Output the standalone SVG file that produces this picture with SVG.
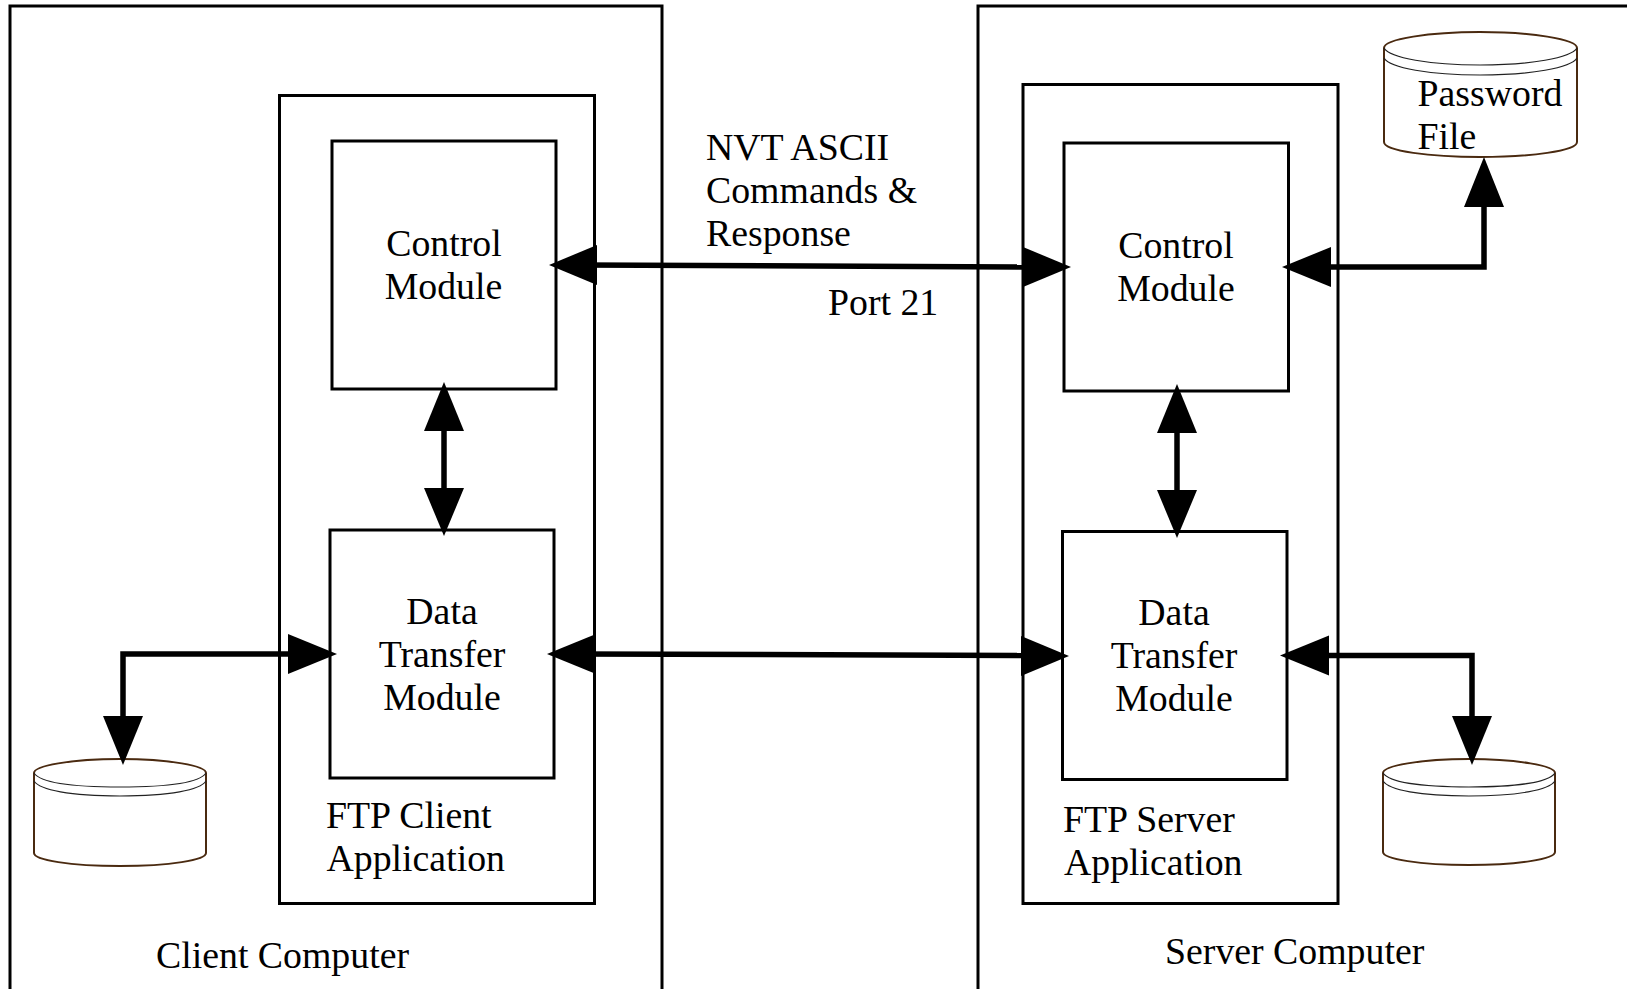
<svg xmlns="http://www.w3.org/2000/svg" width="1627" height="989" viewBox="0 0 1627 989">
<style>
rect{fill:none;stroke:#000;stroke-width:3}
.c{fill:#fff;stroke:#4a2a10;stroke-width:2}
.t{fill:none;stroke:#222;stroke-width:1.2}
text{font-family:"Liberation Serif","Times New Roman",serif;font-size:37.8px;fill:#000}
.m{text-anchor:middle}
.l{fill:none;stroke:#000;stroke-width:5.5}
.a{fill:#000;stroke:none}
</style>
<g id="client-computer"><rect x="10" y="6" width="652" height="1000"/><text x="156" y="968">Client Computer</text></g>
<g id="server-computer"><rect x="978" y="6" width="700" height="1000"/><text x="1165" y="964">Server Computer</text></g>
<g id="client-app"><rect x="279.500" y="95.500" width="315" height="808"/><text x="326" y="827.500">FTP Client</text><text x="326.500" y="870.500">Application</text></g>
<g id="server-app"><rect x="1023" y="84.500" width="315" height="819"/><text x="1063" y="831.500">FTP Server</text><text x="1064" y="874.500">Application</text></g>
<g id="client-control"><rect x="332" y="141" width="224" height="248"/><text class="m" x="444" y="256">Control</text><text class="m" x="443.500" y="299">Module</text></g>
<g id="client-data"><rect x="330" y="530" width="224" height="248"/><text class="m" x="442" y="624">Data</text><text class="m" x="442" y="667">Transfer</text><text class="m" x="442" y="710">Module</text></g>
<g id="server-control"><rect x="1064" y="143" width="224.500" height="248"/><text class="m" x="1176" y="258">Control</text><text class="m" x="1176" y="301">Module</text></g>
<g id="server-data"><rect x="1062.500" y="531.500" width="224.500" height="248"/><text class="m" x="1174" y="625">Data</text><text class="m" x="1174" y="668">Transfer</text><text class="m" x="1174" y="711">Module</text></g>
<g id="password-file">
<path class="c" d="M1384 48C1384 39 1430 32 1480 32C1530 32 1577 39 1577 48V142C1577 151 1530 157 1480 157C1430 157 1384 151 1384 142Z"/>
<path class="t" d="M1384 48C1390 58 1430 65 1480 65C1530 65 1571 58 1577 48M1384 58C1390 68 1430 75 1480 75C1530 75 1571 68 1577 58"/>
<text x="1417.500" y="106">Password</text><text x="1417.500" y="149">File</text></g>
<g id="client-store">
<path class="c" d="M34 773C34 766 70 759 120 759C170 759 206 766 206 773V853C206 860 170 866 120 866C70 866 34 860 34 853Z"/>
<path class="t" d="M34 773C40 782 70 787 120 787C170 787 200 782 206 773M34 781C40 790 70 796 120 796C170 796 200 790 206 781"/></g>
<g id="server-store">
<path class="c" d="M1383 773C1383 766 1420 759 1469 759C1518 759 1555 766 1555 773V852C1555 859 1518 865 1469 865C1420 865 1383 859 1383 852Z"/>
<path class="t" d="M1383 773C1389 782 1420 787 1469 787C1518 787 1549 782 1555 773M1383 781C1389 790 1420 796 1469 796C1518 796 1549 790 1555 781"/></g>
<g id="nvt-label"><text x="706" y="160">NVT ASCII</text><text x="706" y="203">Commands &amp;</text><text x="706" y="246">Response</text><text x="828" y="315">Port 21</text></g>
<g id="connectors">
<path class="l" d="M580 265L1040 267"/>
<path class="a" d="M549 265L597 245V285Z"/><path class="a" d="M1071 267L1023 247V287Z"/>
<path class="l" d="M444 410V510"/>
<path class="a" d="M444 382L464 431H424Z"/><path class="a" d="M444 536L464 488H424Z"/>
<path class="l" d="M1177 412V512"/>
<path class="a" d="M1177 384L1197 433H1157Z"/><path class="a" d="M1177 538L1197 490H1157Z"/>
<path class="l" d="M575 654L1040 655.500"/>
<path class="a" d="M547 654L596 634V674Z"/><path class="a" d="M1069 656L1021 636V676Z"/>
<path class="l" d="M300 654H123V730"/>
<path class="a" d="M337 654L288 634V674Z"/><path class="a" d="M123 765L103 716H143Z"/>
<path class="l" d="M1310 267H1484V190"/>
<path class="a" d="M1282 267L1331 247V287Z"/><path class="a" d="M1484 157L1504 207H1464Z"/>
<path class="l" d="M1310 655.500H1472V730"/>
<path class="a" d="M1280 655.500L1329 635.500V675.500Z"/><path class="a" d="M1472 765L1452 716H1492Z"/>
</g>
</svg>
